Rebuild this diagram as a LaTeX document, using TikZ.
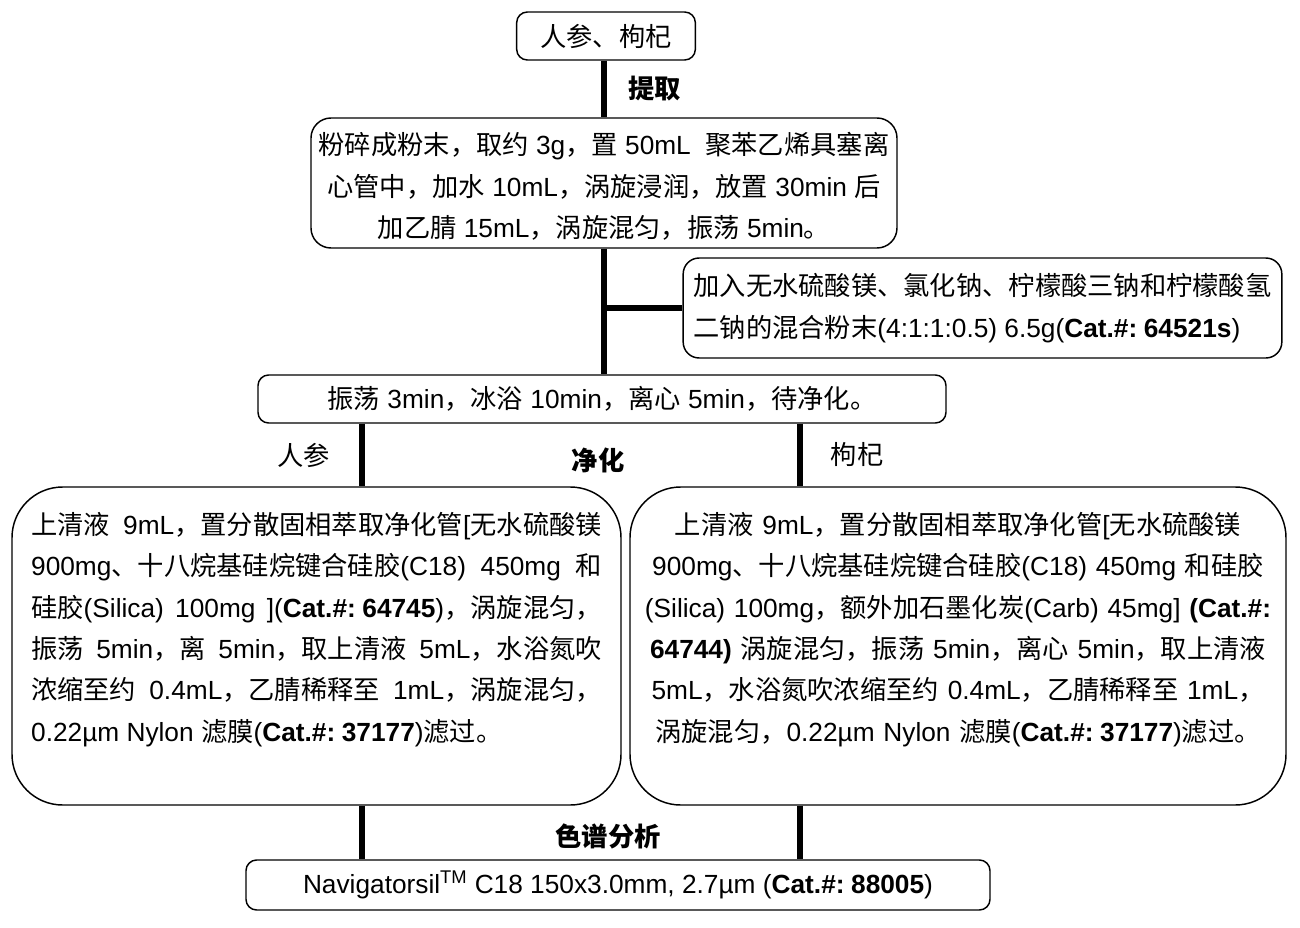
\documentclass[tikz,border=0pt]{standalone}
\usepackage{fontspec}
\setmainfont{Liberation Sans}
\newfontfamily\cjk{Noto Sans CJK SC}
% Chinese characters go to the CJK face, the rest stays in Liberation Sans
\newcount\zhc
\newXeTeXintercharclass\zhcls
\zhc="3000 \loop\ifnum\zhc<"3040 \XeTeXcharclass\zhc=\zhcls \advance\zhc by 1 \repeat
\zhc="4E00 \loop\ifnum\zhc<"A000 \XeTeXcharclass\zhc=\zhcls \advance\zhc by 1 \repeat
\zhc="FF00 \loop\ifnum\zhc<"FF60 \XeTeXcharclass\zhc=\zhcls \advance\zhc by 1 \repeat
\XeTeXinterchartoks 0 \zhcls = {\cjk}
\XeTeXinterchartoks 4095 \zhcls = {\cjk}
\XeTeXinterchartoks \zhcls 0 = {\rmfamily}
\XeTeXinterchartoks \zhcls 4095 = {\rmfamily}
\XeTeXinterchartokenstate=1
\newcommand{\catno}[1]{\textbf{Cat.\#:\hspace{0.25em}#1}}

\begin{document}
\begin{tikzpicture}[x=0.75pt,y=-0.75pt,
    font=\fontsize{19.7}{31}\selectfont,
    box/.style={draw,line width=1.1pt,rounded corners=#1,inner sep=0pt},
    box/.default=8pt,
    link/.style={line width=3.8pt},
    steplabel/.style={font=\fontsize{19.7}{31}\selectfont\bfseries}]
  \useasboundingbox (0,0) rectangle (1300,928);
      \node[box,minimum width=134pt,minimum height=36pt](herb) at (606,36) {人参、枸杞};
      \node[box=15pt,minimum width=439.5pt,minimum height=97.5pt,align=center](extr) at (604,183)
        {\rule{0pt}{22pt}粉碎成粉末，取约 3g，置 50mL\ \ 聚苯乙烯具塞离\\心管中，加水 10mL，涡旋浸润，放置 30min 后\\加乙腈 15mL，涡旋混匀，振荡 5min。};
      \node[box=12pt,minimum width=449pt,minimum height=75pt,align=left](salt) at (982.5,308)
        {加入无水硫酸镁、氯化钠、柠檬酸三钠和柠檬酸氢\\二钠的混合粉末(4:1:1:0.5) 6.5g(\catno{64521s})};
      \node[box,minimum width=516pt,minimum height=36pt](shake) at (602,399)
        {振荡 3min，冰浴 10min，离心 5min，待净化。};
      \node[box=38pt,minimum width=456.75pt,minimum height=238.5pt,text width=428pt,align=justify](gin) at (316.5,646)
        {上清液 9mL，置分散固相萃取净化管[无水硫酸镁\linebreak
         900mg、十八烷基硅烷键合硅胶(C18) 450mg 和\linebreak
         硅胶(Silica) 100mg ](\catno{64745})，涡旋混匀，\linebreak
         振荡 5min，离 5min，取上清液 5mL，水浴氮吹\linebreak
         浓缩至约 0.4mL，乙腈稀释至 1mL，涡旋混匀，\linebreak
         0.22µm Nylon 滤膜(\catno{37177})滤过。\par\kern25pt};
      \node[box=38pt,minimum width=492pt,minimum height=238.5pt,text width=486pt,align=center](wolf) at (958,646)
        {上清液 9mL，置分散固相萃取净化管[无水硫酸镁\\
         900mg、十八烷基硅烷键合硅胶(C18) 450mg 和硅胶\\
         (Silica) 100mg，额外加石墨化炭(Carb) 45mg] \textbf{(Cat.\#:}\\
         \textbf{64744)} 涡旋混匀，振荡 5min，离心 5min，取上清液\\
         5mL，水浴氮吹浓缩至约 0.4mL，乙腈稀释至 1mL，\\
         涡旋混匀，0.22µm Nylon 滤膜(\catno{37177})滤过。\par\kern25pt};
      \node[box,minimum width=558pt,minimum height=37.5pt](col) at (618,885)
        {Navigatorsil\textsuperscript{TM} C18 150x3.0mm, 2.7µm (\catno{88005})};
      \coordinate(gx) at (362,0);
      \coordinate(wx) at (800,0);
      % extraction and clean-up steps
      \path[link] (extr.north |- herb.south) edge node[right=13pt,steplabel] {提取} (extr.north);
      \path[link] (extr.south) edge (extr.south |- shake.north);
      \path[link] (extr.south |- salt.west) edge (salt.west);
      \path[link] (shake.south -| gx) edge node[left=19pt] {人参} (gin.north -| gx);
      \path[link] (shake.south -| wx) edge node[right=18pt] {枸杞} (wolf.north -| wx);
      \node[steplabel](clean) at (598,460) {净化};
      \path[link] (gin.south -| gx) edge (col.north -| gx);
      \path[link] (wolf.south -| wx) edge (col.north -| wx);
      \node[steplabel](lc) at (608,836) {色谱分析};
\end{tikzpicture}
\end{document}
